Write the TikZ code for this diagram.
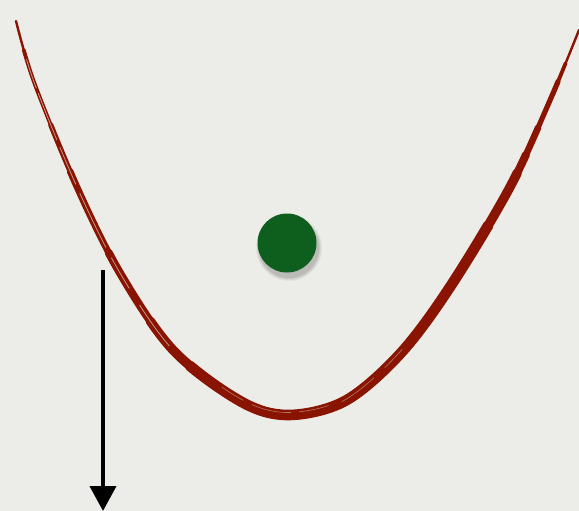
\documentclass[tikz,border=0pt]{standalone}
\usetikzlibrary{arrows.meta}
\definecolor{paper}{RGB}{236,236,232}
\definecolor{brush}{RGB}{138,20,2}
\definecolor{dotgreen}{RGB}{14,94,30}
\tikzset{
  brushline/.style={draw=brush, line cap=round, line join=round},
  streak/.style={draw=paper, opacity=0.6, line width=0.8pt, line cap=round},
  force/.style={draw=black, line width=4pt, -{Triangle[width=26pt,length=25pt]}}
}
\newcommand{\bowl}{plot[smooth, tension=0.55] coordinates {(16,21) (34,82) (77,187) (120,273) (173,350) (240,401) (288,415) (345,401) (400,354) (450,287) (510,187) (551,98) (579,30)}}
\begin{document}
\begin{tikzpicture}[x=1pt,y=-1pt]
\fill[paper] (0,0) rectangle (579,511);
\useasboundingbox (0,0) rectangle (579,511);
% brush parabola, thickness growing toward the bottom
\draw[brushline, line width=2.4pt] \bowl;
\draw[brushline, line width=3.8pt, dash pattern=on 940pt off 3000pt, dash phase=3910pt] \bowl;
\draw[brushline, line width=5.2pt, dash pattern=on 840pt off 3000pt, dash phase=3730pt] \bowl;
\draw[brushline, line width=6.6pt, dash pattern=on 740pt off 3000pt, dash phase=3580pt] \bowl;
\draw[brushline, line width=8pt, dash pattern=on 620pt off 3000pt, dash phase=3370pt] \bowl;
\draw[brushline, line width=9.4pt, dash pattern=on 520pt off 3000pt, dash phase=3190pt] \bowl;
\draw[brushline, line width=10.6pt, dash pattern=on 400pt off 3000pt, dash phase=3010pt] \bowl;
% light streaks of the dry brush
\draw[streak, dash pattern=on 30pt off 6pt on 50pt off 8pt on 40pt off 10pt on 60pt off 12pt on 35pt off 20pt on 50pt off 3000pt, dash phase=3281pt] \bowl;
\draw[streak, opacity=0.45, line width=0.6pt, yshift=2.5pt, dash pattern=on 25pt off 10pt on 40pt off 8pt on 30pt off 3000pt, dash phase=2683pt] \bowl;
\draw[streak, opacity=0.45, line width=0.6pt, xshift=-2pt, dash pattern=on 40pt off 15pt on 25pt off 3000pt, dash phase=2520pt] \bowl;
% dot with soft shadow
\foreach \r/\o in {33/0.04,32/0.05,31/0.06,30/0.07}
  \fill[black, opacity=\o] (289,248) circle (\r pt);
\node[circle, fill=dotgreen, minimum size=59pt, inner sep=0pt] (dot) at (287,243) {};
% arrow
\coordinate (atop) at (103,270);
\coordinate (abot) at (103,511);
\draw[force] (atop) -- (abot);
\end{tikzpicture}
\end{document}
